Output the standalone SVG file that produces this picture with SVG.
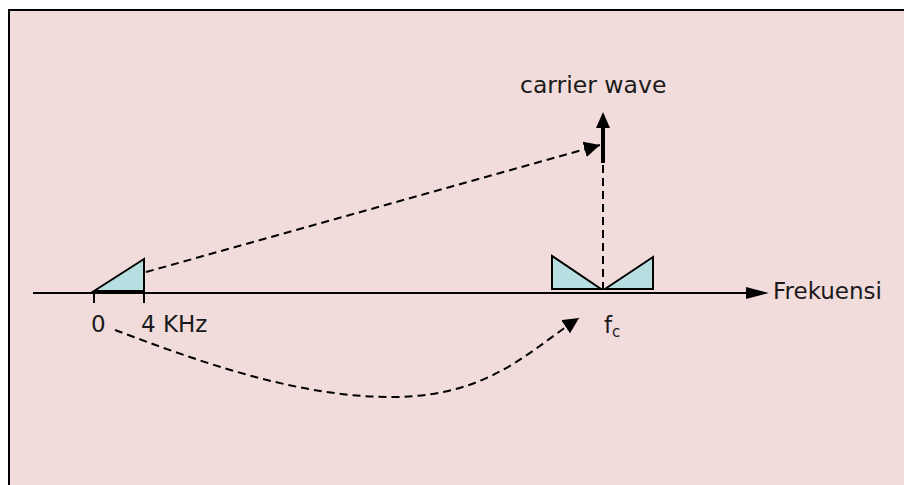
<svg xmlns="http://www.w3.org/2000/svg" width="904" height="485" viewBox="0 0 904 485">
  <style>
    .t { font-family: "DejaVu Sans", "Liberation Sans", sans-serif; font-size: 23px; fill: #1a1a1a; }
    .tri { fill: #B7DEE0; stroke: #000; stroke-width: 2; stroke-linejoin: miter; }
    .dash { fill: none; stroke: #000; stroke-width: 2; stroke-dasharray: 8 5; }
  </style>
  <defs>
    <marker id="ah" viewBox="0 0 10 10" refX="10" refY="5" markerWidth="8" markerHeight="8" markerUnits="strokeWidth" orient="auto">
      <path d="M0,0 L10,5 L0,10 z" fill="#000"/>
    </marker>
  </defs>
  <rect x="9" y="10" width="920" height="500" fill="#F2DCDB" stroke="#000" stroke-width="2"/>

  <g id="axis">
    <line x1="33" y1="293" x2="750" y2="293" stroke="#000" stroke-width="2"/>
    <polygon points="746,287 769,293 746,299" fill="#000"/>
    <line x1="94" y1="293" x2="94" y2="303" stroke="#000" stroke-width="2"/>
    <line x1="144" y1="293" x2="144" y2="303" stroke="#000" stroke-width="2"/>
    <text class="t" x="773" y="299">Frekuensi</text>
    <text class="t" x="91" y="332">0</text>
    <text class="t" x="141" y="332">4 KHz</text>
    <text class="t" x="604" y="333">f<tspan font-size="15" dy="4">c</tspan></text>
  </g>

  <g id="baseband">
    <polygon class="tri" points="94,291 144,259 144,291"/>
  </g>

  <g id="modulated">
    <polygon class="tri" points="552,256 552,289 601,289"/>
    <polygon class="tri" points="605,289 653,257 653,289"/>
  </g>

  <g id="carrier">
    <line x1="603" y1="163" x2="603" y2="125" stroke="#000" stroke-width="4"/>
    <polygon points="603,112 596,128 610,128" fill="#000"/>
    <text class="t" x="520" y="93" style="font-size:23.5px">carrier wave</text>
  </g>

  <g id="connectors">
    <line class="dash" x1="603" y1="165" x2="603" y2="290"/>
    <path class="dash" d="M146,272 L600,145" marker-end="url(#ah)"/>
    <path class="dash" d="M115,330 C200,362 300,398 395,397 S530,350 579,318" marker-end="url(#ah)"/>
  </g>
</svg>
